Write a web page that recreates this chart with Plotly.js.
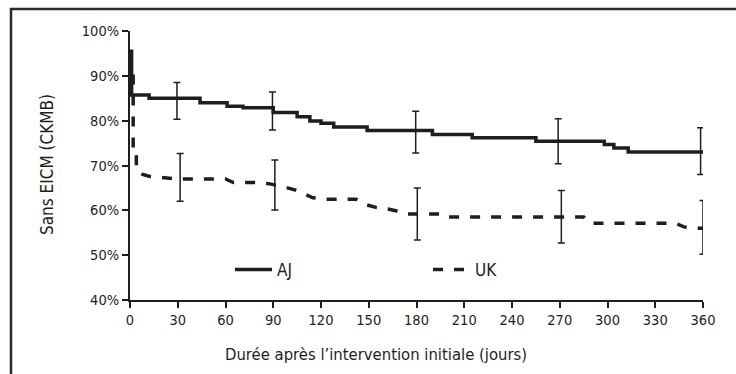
<!DOCTYPE html>
<html>
<head>
<meta charset="utf-8">
<script src="https://cdn.plot.ly/plotly-3.0.1.min.js"></script>
<style>
  html, body { margin: 0; padding: 0; background: #fff; }
  #chart { width: 736px; height: 374px; }
</style>
</head>
<body>
<div id="chart"></div>
<script>
// ---- Data ----
const ajDays = [0, 1, 12, 44, 61, 71, 90, 105, 113, 120, 128, 149, 190, 215, 255, 298, 304, 313, 360];
const ajSurv = [95.5, 85.7, 85.0, 84.0, 83.2, 82.9, 81.8, 80.9, 79.9, 79.4, 78.6, 77.8, 76.9, 76.2, 75.4, 74.7, 73.9, 73.0, 73.0];

const ukDays = [2, 2, 4, 4, 8, 12, 30, 60, 65, 79, 88, 96, 104, 115, 122, 142, 149, 155, 162, 167, 173, 195, 198, 285, 289, 343, 348, 354, 360];
const ukSurv = [90.3, 74, 74, 69, 68.0, 67.6, 67.0, 67.0, 66.2, 66.2, 65.9, 65.3, 64.5, 62.8, 62.5, 62.5, 61.2, 60.6, 60.3, 59.9, 59.2, 59.2, 58.5, 58.5, 57.1, 57.1, 56.3, 56.0, 56.0];

const ajErrDays  = [29.5, 89.5, 179.5, 269, 358.5];
const ajErrMid   = [85.0, 82.0, 77.8, 75.4, 73.0];
const ajErrUpper = [88.5, 86.4, 82.1, 80.4, 78.4];
const ajErrLower = [80.3, 77.9, 72.8, 70.4, 68.0];

const ukErrDays  = [31.5, 91, 180.5, 271, 360];
const ukErrMid   = [67.0, 65.8, 59.2, 58.5, 56.0];
const ukErrUpper = [72.7, 71.2, 65.0, 64.4, 62.2];
const ukErrLower = [62.0, 60.1, 53.4, 52.7, 50.2];

const xTicks = [0, 30, 60, 90, 120, 150, 180, 210, 240, 270, 300, 330, 360];
const yTicks = [40, 50, 60, 70, 80, 90, 100];
const yTickLabels = ['40%', '50%', '60%', '70%', '80%', '90%', '100%'];

const seriesNames = ['AJ', 'UK'];
const xTitle = 'Durée après l’intervention initiale (jours)';
const yTitle = 'Sans EICM (CKMB)';

// ---- Styling ----
const FONT = '"Liberation Sans Narrow", "Arial Narrow", "DejaVu Sans Condensed", "Liberation Sans", sans-serif';
const INK = '#1e1e1e';

const errTrace = (xs, mid, up, lo) => ({
  x: xs, y: mid, type: 'scatter', mode: 'markers',
  marker: { size: 1, opacity: 0 },
  showlegend: false, hoverinfo: 'skip',
  error_y: {
    type: 'data', symmetric: false,
    array: up.map((v, i) => v - mid[i]),
    arrayminus: mid.map((v, i) => v - lo[i]),
    color: INK, thickness: 1.5, width: 3.5
  }
});

const traces = [
  {
    x: ajDays, y: ajSurv, name: seriesNames[0], type: 'scatter', mode: 'lines',
    line: { shape: 'hv', color: INK, width: 3.5 }
  },
  {
    x: ukDays, y: ukSurv, name: seriesNames[1], type: 'scatter', mode: 'lines',
    line: { shape: 'linear', color: INK, width: 3.5, dash: '10px,11px' }
  },
  errTrace(ajErrDays, ajErrMid, ajErrUpper, ajErrLower),
  errTrace(ukErrDays, ukErrMid, ukErrUpper, ukErrLower)
];

const L = 130, R = 33, T = 31, B = 74, W = 736, H = 374;
const pw = W - L - R, ph = H - T - B;
const px2x = p => (p - L) / pw;
const py2y = p => (H - B - p) / ph;

const layout = {
  width: W, height: H,
  margin: { l: L, r: R, t: T, b: B, pad: 0 },
  paper_bgcolor: '#fff', plot_bgcolor: '#fff',
  font: { family: FONT, color: INK, size: 14.5 },
  showlegend: true,
  xaxis: {
    range: [0, 360], tickvals: xTicks, ticktext: xTicks.map(String),
    showline: true, linewidth: 2, linecolor: INK,
    ticks: 'outside', ticklen: 6, tickwidth: 2, tickcolor: INK,
    showgrid: false, zeroline: false,
    tickfont: { family: FONT, size: 14.5, color: INK }
  },
  yaxis: {
    range: [40, 100], tickvals: yTicks, ticktext: yTickLabels,
    showline: true, linewidth: 2, linecolor: INK,
    ticks: 'outside', ticklen: 6, tickwidth: 2, tickcolor: INK,
    showgrid: false, zeroline: false,
    tickfont: { family: FONT, size: 14.5, color: INK }
  },
  legend: {
    orientation: 'h', x: px2x(230), y: py2y(270), xanchor: 'left', yanchor: 'middle',
    bgcolor: 'rgba(0,0,0,0)', borderwidth: 0,
    font: { family: FONT, size: 17, color: INK },
    entrywidth: 146, entrywidthmode: 'pixels', itemwidth: 37
  },
  annotations: [
    {
      text: xTitle, xref: 'paper', yref: 'paper',
      x: px2x(376), y: py2y(355), xanchor: 'center', yanchor: 'middle',
      showarrow: false, font: { family: FONT, size: 16.5, color: INK }
    },
    {
      text: yTitle, xref: 'paper', yref: 'paper', textangle: -90,
      x: px2x(47), y: py2y(165), xanchor: 'center', yanchor: 'middle',
      showarrow: false, font: { family: FONT, size: 17, color: INK }
    }
  ],
  shapes: [
    { type: 'line', xref: 'paper', yref: 'paper', x0: px2x(10), x1: px2x(740), y0: py2y(9), y1: py2y(9),
      line: { color: '#2a2a2a', width: 2.5 } },
    { type: 'line', xref: 'paper', yref: 'paper', x0: px2x(11), x1: px2x(11), y0: py2y(8), y1: py2y(380),
      line: { color: '#2a2a2a', width: 2.5 } }
  ]
};

Plotly.newPlot('chart', traces, layout, { staticPlot: true, displayModeBar: false });
</script>
</body>
</html>
